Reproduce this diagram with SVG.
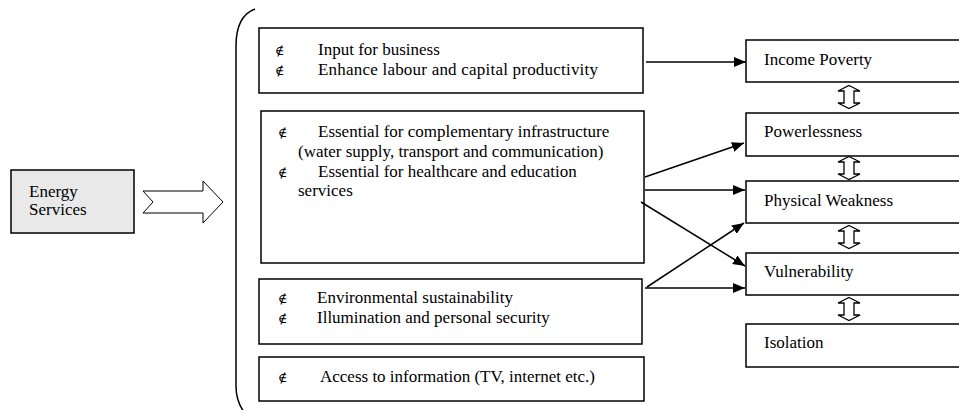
<svg xmlns="http://www.w3.org/2000/svg" width="959" height="410" viewBox="0 0 959 410">
  <style>
    .box { fill: #ffffff; stroke: #000000; stroke-width: 1.5; }
    .src { fill: #e9e9e9; stroke: #000000; stroke-width: 1.5; }
    .txt { font-family: "Liberation Serif", "Times New Roman", serif; font-size: 17px; fill: #000000; }
    .bul { font-family: "Liberation Serif", "DejaVu Serif", serif; font-size: 13px; fill: #000000; }
    .link { stroke: #000000; stroke-width: 1.5; fill: none; marker-end: url(#head); }
    .dbl { fill: #ffffff; stroke: #000000; stroke-width: 1.3; stroke-linejoin: miter; }
    .brace { fill: none; stroke: #000000; stroke-width: 1.5; }
  </style>
  <defs>
    <marker id="head" viewBox="0 0 12 10" refX="12" refY="5" markerWidth="12" markerHeight="10" markerUnits="userSpaceOnUse" orient="auto">
      <path d="M0,0 L12,5 L0,10 z" fill="#000000"/>
    </marker>
    <!-- hollow up-down arrow, centred on 0,0, 22 wide x 23 tall -->
    <path id="updown" d="M0,-11.5 L11,-6 L5,-6 L5,6 L11,6 L0,11.5 L-11,6 L-5,6 L-5,-6 L-11,-6 z"/>
  </defs>

  <rect width="959" height="410" fill="#ffffff"/>

  <!-- source node -->
  <g id="energy-services">
    <rect class="src" x="11" y="170" width="123" height="63"/>
    <text class="txt" x="29" y="197">Energy</text>
    <text class="txt" x="29" y="215">Services</text>
  </g>

  <!-- wide hollow arrow into the benefit group -->
  <g id="energy-arrow">
    <polygon points="143,191 203,191 203,181 223,202 203,223 203,213 143,213 153,202" fill="#ffffff" stroke="#000000" stroke-width="1"/>
  </g>

  <!-- brace around the benefit boxes -->
  <g id="brace">
    <path class="brace" d="M255,9 C244,13 236,24 236,46 L236,386 C236,398 239,405 244,412"/>
  </g>

  <!-- benefit boxes -->
  <g id="business">
    <rect class="box" x="259" y="28" width="384" height="65"/>
    <text class="bul" x="275" y="55">∉</text>
    <text class="txt" x="318" y="55">Input for business</text>
    <text class="bul" x="275" y="75">∉</text>
    <text class="txt" x="318" y="75" textLength="280" lengthAdjust="spacing">Enhance labour and capital productivity</text>
  </g>

  <g id="infrastructure">
    <rect class="box" x="261" y="111" width="383" height="152"/>
    <text class="bul" x="278" y="137">∉</text>
    <text class="txt" x="318" y="137">Essential for complementary infrastructure</text>
    <text class="txt" x="298" y="157">(water supply, transport and communication)</text>
    <text class="bul" x="278" y="177">∉</text>
    <text class="txt" x="318" y="177">Essential for healthcare and education</text>
    <text class="txt" x="298" y="196">services</text>
  </g>

  <g id="environment">
    <rect class="box" x="259" y="279" width="383" height="65"/>
    <text class="bul" x="278" y="303">∉</text>
    <text class="txt" x="317" y="303">Environmental sustainability</text>
    <text class="bul" x="278" y="323">∉</text>
    <text class="txt" x="317" y="323">Illumination and personal security</text>
  </g>

  <g id="information">
    <rect class="box" x="259" y="357" width="385" height="44"/>
    <text class="bul" x="278" y="382">∉</text>
    <text class="txt" x="320" y="382">Access to information (TV, internet etc.)</text>
  </g>

  <!-- poverty dimensions -->
  <g id="income-poverty">
    <rect class="box" x="746" y="40" width="216" height="42"/>
    <text class="txt" x="764" y="65">Income Poverty</text>
  </g>
  <g id="powerlessness">
    <rect class="box" x="746" y="113" width="216" height="43"/>
    <text class="txt" x="764" y="137">Powerlessness</text>
  </g>
  <g id="physical-weakness">
    <rect class="box" x="746" y="181" width="216" height="42"/>
    <text class="txt" x="764" y="206">Physical Weakness</text>
  </g>
  <g id="vulnerability">
    <rect class="box" x="746" y="253" width="216" height="42"/>
    <text class="txt" x="764" y="277">Vulnerability</text>
  </g>
  <g id="isolation">
    <rect class="box" x="746" y="324" width="216" height="43"/>
    <text class="txt" x="764" y="348">Isolation</text>
  </g>

  <!-- connectors -->
  <g id="connectors">
    <line class="link" x1="646" y1="62" x2="746" y2="62"/>
    <line class="link" x1="645" y1="177" x2="744" y2="143"/>
    <line class="link" x1="645" y1="190" x2="745" y2="190"/>
    <line class="link" x1="641" y1="202" x2="745" y2="266"/>
    <line class="link" x1="647" y1="287" x2="744" y2="223"/>
    <line class="link" x1="645" y1="288" x2="745" y2="288"/>

    <use href="#updown" class="dbl" x="849" y="97"/>
    <use href="#updown" class="dbl" x="849" y="168"/>
    <use href="#updown" class="dbl" x="849" y="237"/>
    <use href="#updown" class="dbl" x="849" y="309"/>
  </g>
</svg>
